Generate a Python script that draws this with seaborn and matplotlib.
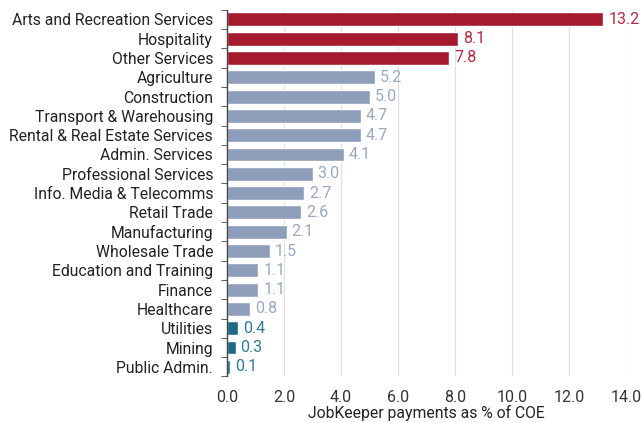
import matplotlib.pyplot as plt
import numpy as np
import pandas as pd
import seaborn as sns
from matplotlib.ticker import MultipleLocator, FixedLocator

industries = [
    "Arts and Recreation Services", "Hospitality", "Other Services",
    "Agriculture", "Construction", "Transport & Warehousing",
    "Rental & Real Estate Services", "Admin. Services", "Professional Services",
    "Info. Media & Telecomms", "Retail Trade", "Manufacturing",
    "Wholesale Trade", "Education and Training", "Finance", "Healthcare",
    "Utilities", "Mining", "Public Admin.",
]
payments = [13.2, 8.1, 7.8, 5.2, 5.0, 4.7, 4.7, 4.1, 3.0, 2.7, 2.6, 2.1,
            1.5, 1.1, 1.1, 0.8, 0.4, 0.3, 0.1]
groups = ["high"] * 3 + ["mid"] * 13 + ["low"] * 3

bar_colors = {"high": "#A6192E", "mid": "#8E9DBA", "low": "#1D6A8A"}
label_colors = {"high": "#B02A3E", "mid": "#9AA8C4", "low": "#2C7B9A"}

df = pd.DataFrame({"industry": industries, "value": payments, "group": groups})

sns.set_style("white")
plt.rcParams["font.family"] = ["Roboto", "DejaVu Sans"]

fig, ax = plt.subplots(figsize=(6.43, 4.23), dpi=100)
fig.subplots_adjust(left=0.353, right=0.974, top=0.977, bottom=0.11)

sns.barplot(data=df, x="value", y="industry", hue="group", palette=bar_colors,
            dodge=False, width=0.72, saturation=1, legend=False, ax=ax)

# value labels
for i, (v, g) in enumerate(zip(payments, groups)):
    ax.text(v + 0.17, i, f"{v:.1f}", va="center", ha="left",
            fontsize=11.5, color=label_colors[g])

ax.set_xlim(0, 14)
ax.set_ylim(len(industries) - 0.5, -0.5)
ax.xaxis.set_major_locator(MultipleLocator(2))
ax.xaxis.set_major_formatter(lambda x, pos: f"{x:.1f}")
ax.grid(axis="x", color="#E0E0E0", linewidth=0.9)
ax.set_axisbelow(True)

for s in ["top", "right", "bottom"]:
    ax.spines[s].set_visible(False)
ax.spines["left"].set_color("#444444")
ax.spines["left"].set_linewidth(1.0)

ax.yaxis.set_minor_locator(FixedLocator(np.arange(-0.5, len(industries), 1)))
ax.tick_params(axis="y", which="major", length=0, labelsize=11.3, pad=10,
               colors="#222222")
ax.tick_params(axis="y", which="minor", length=4, color="#444444", left=True)
ax.tick_params(axis="x", length=0, labelsize=11.5, colors="#333333", pad=10)

ax.set_ylabel("")
ax.set_xlabel("JobKeeper payments as % of COE", fontsize=11.3,
              color="#222222", labelpad=0)

fig.savefig("out.png", dpi=100)
